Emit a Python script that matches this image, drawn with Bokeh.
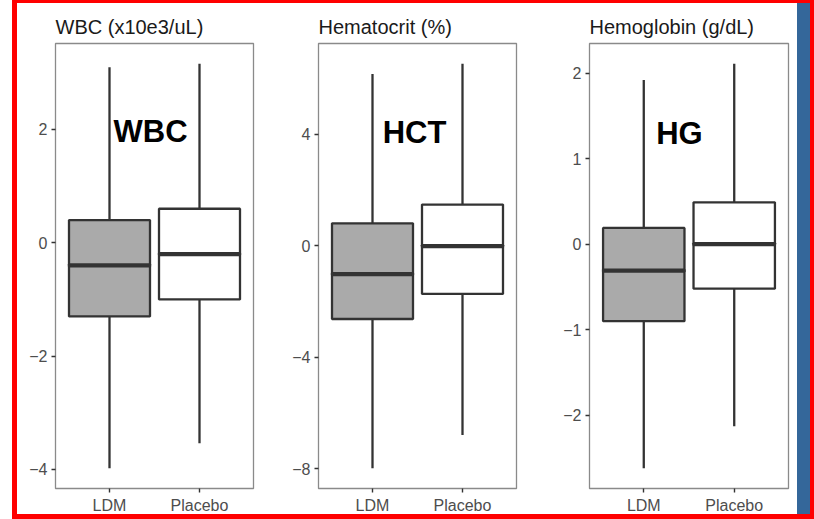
from bokeh.plotting import figure
from bokeh.layouts import row
from bokeh.models import FactorRange, Range1d, FixedTicker, ColumnDataSource
from bokeh.core.properties import value
from bokeh.embed import file_html
from bokeh.resources import INLINE

# ---------------- data ----------------
groups = ["LDM", "Placebo"]
box_fills = ["#aaaaaa", "#ffffff"]

panel_titles = ["WBC (x10e3/uL)", "Hematocrit (%)", "Hemoglobin (g/dL)"]
panel_labels = ["WBC", "HCT", "HG"]

wbc_lower = [-3.98, -3.54]
wbc_q1 = [-1.30, -1.00]
wbc_median = [-0.40, -0.20]
wbc_q3 = [0.40, 0.60]
wbc_upper = [3.10, 3.16]
wbc_ticks = [-4, -2, 0, 2]

hct_lower = [-7.98, -6.79]
hct_q1 = [-2.63, -1.73]
hct_median = [-1.02, -0.02]
hct_q3 = [0.80, 1.47]
hct_upper = [6.15, 6.52]
hct_ticks = [-8, -4, 0, 4]

hg_lower = [-2.62, -2.13]
hg_q1 = [-0.90, -0.52]
hg_median = [-0.31, 0.00]
hg_q3 = [0.19, 0.49]
hg_upper = [1.92, 2.11]
hg_ticks = [-2, -1, 0, 1, 2]

# label anchor positions (synthetic x, data y)
label_x = [0.956, 0.967, 0.894]
label_y = [1.96, 4.07, 1.29]

# ---------------- layout / style ----------------
fig_widths = [280, 270, 264]
border_left = [55, 38, 39]
border_right = [27, 34, 26]
FIG_H = 519
FONT = "Liberation Sans"
DARK = "#333333"

panels = [
    (wbc_lower, wbc_q1, wbc_median, wbc_q3, wbc_upper, wbc_ticks),
    (hct_lower, hct_q1, hct_median, hct_q3, hct_upper, hct_ticks),
    (hg_lower, hg_q1, hg_median, hg_q3, hg_upper, hg_ticks),
]


def minus(v):
    return ("\u2212" + str(abs(v))) if v < 0 else str(v)


figs = []
for i, (lo, q1, med, q3, hi, ticks) in enumerate(panels):
    dmin, dmax = min(lo), max(hi)
    pad = 0.05 * (dmax - dmin)
    p = figure(
        width=fig_widths[i], height=FIG_H,
        x_range=FactorRange(factors=groups, range_padding=0.1),
        y_range=Range1d(dmin - pad, dmax + pad),
        output_backend="svg", toolbar_location=None,
        min_border_left=border_left[i], min_border_right=border_right[i],
        min_border_top=43, min_border_bottom=31,
        title=panel_titles[i],
    )
    p.border_fill_color = None
    p.background_fill_color = "#ffffff"
    p.outline_line_color = "#8a8a8a"
    p.outline_line_width = 1.3
    p.xgrid.grid_line_color = None
    p.ygrid.grid_line_color = None

    p.title.text_font = FONT
    p.title.text_font_size = "20px"
    p.title.text_font_style = "normal"
    p.title.text_color = "#1a1a1a"
    p.title.align = "left"
    p.title.offset = 0
    p.title.standoff = 12

    for ax in (p.xaxis[0], p.yaxis[0]):
        ax.axis_line_color = None
        ax.major_tick_line_color = DARK
        ax.major_tick_line_width = 1.4
        ax.major_tick_in = 0
        ax.major_tick_out = 4
        ax.minor_tick_line_color = None
        ax.major_label_text_font = FONT
        ax.major_label_text_color = "#4d4d4d"
        ax.major_label_text_font_size = "16px"
        ax.major_label_standoff = 4
    p.yaxis[0].ticker = FixedTicker(ticks=ticks)
    p.yaxis[0].major_label_overrides = {float(t): minus(t) for t in ticks}

    src = ColumnDataSource(dict(g=groups, lo=lo, q1=q1, med=med, q3=q3, hi=hi, fill=box_fills))
    p.segment(x0="g", y0="q3", x1="g", y1="hi", source=src, line_color=DARK, line_width=2.3)
    p.segment(x0="g", y0="lo", x1="g", y1="q1", source=src, line_color=DARK, line_width=2.3)
    p.vbar(x="g", width=0.9, top="q3", bottom="q1", source=src,
           fill_color="fill", line_color=DARK, line_width=2.3)
    # median line across box width
    p.rect(x="g", y="med", width=0.9, height=2, height_units="screen", source=src,
           line_color=DARK, line_width=2.3, fill_color=DARK)

    p.text(x=[label_x[i]], y=[label_y[i]], text=[panel_labels[i]],
           text_font=value(FONT), text_font_style="bold", text_font_size="31px",
           text_align="center", text_baseline="middle", text_color="#000000")
    figs.append(p)

bg = ", ".join([
    "linear-gradient(#ff0000,#ff0000) 12px 0px / 802px 3px no-repeat",
    "linear-gradient(#ff0000,#ff0000) 12px 0px / 5px 519px no-repeat",
    "linear-gradient(#ff0000,#ff0000) 12px 514px / 802px 5px no-repeat",
    "linear-gradient(#ff0000,#ff0000) 810px 0px / 4px 519px no-repeat",
    "linear-gradient(#34679a,#34679a) 797px 3px / 13px 511px no-repeat",
    "#ffffff",
])

layout = row(*figs, styles={"background": bg})

open("out.html", "w").write(file_html(layout, INLINE))
